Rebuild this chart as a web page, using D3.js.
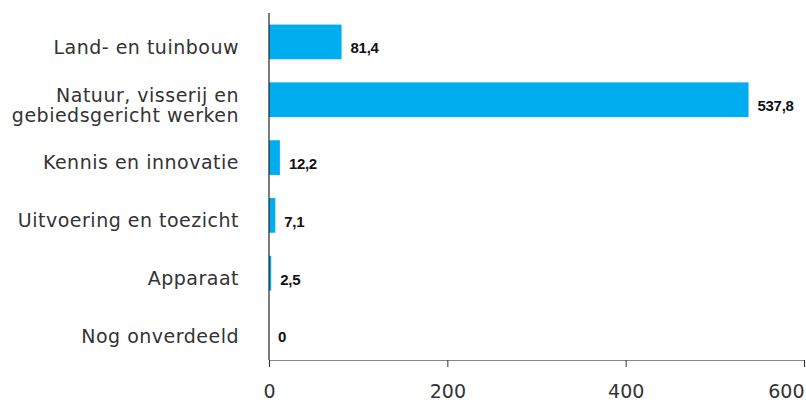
<!DOCTYPE html>
<html>
<head>
<meta charset="utf-8">
<script src="https://cdn.jsdelivr.net/npm/d3@7"></script>
<style>
  body { margin: 0; background: #fff; }
  svg { display: block; }
</style>
</head>
<body>
<div id="chart"></div>
<script>
// categories and values (mln euro)
const categories = [
  ['Land- en tuinbouw'],
  ['Natuur, visserij en', 'gebiedsgericht werken'],
  ['Kennis en innovatie'],
  ['Uitvoering en toezicht'],
  ['Apparaat'],
  ['Nog onverdeeld']
];
const values = [81.4, 537.8, 12.2, 7.1, 2.5, 0];
const xTicks = [0, 200, 400, 600];

const W = 806, H = 403;
const margin = { top: 13, right: 2, bottom: 43, left: 269 };
const width = 804 - margin.left;
const height = H - margin.top - margin.bottom;

const labelFont = '"DejaVu Sans", Verdana, sans-serif';
// texts sit a little below the bar centre in the original
const textShift = 6;

const svg = d3.select('#chart').append('svg')
  .attr('width', W)
  .attr('height', H);

const g = svg.append('g')
  .attr('transform', `translate(${margin.left},${margin.top})`);

const x = d3.scaleLinear().domain([0, 600]).range([0, width]);
const y = d3.scaleBand()
  .domain(d3.range(categories.length))
  .range([0, height])
  .paddingInner(0.4)
  .paddingOuter(0.2);

const fmt = v => String(v).replace('.', ',');

// bars
g.selectAll('.bar')
  .data(values)
  .enter().append('rect')
  .attr('class', 'bar')
  .attr('x', 0)
  .attr('y', (d, i) => y(i))
  .attr('width', d => x(d))
  .attr('height', y.bandwidth())
  .attr('fill', '#00adee');

// value labels
g.selectAll('.val')
  .data(values)
  .enter().append('text')
  .attr('class', 'val')
  .attr('x', d => x(d) + 9)
  .attr('y', (d, i) => y(i) + y.bandwidth() / 2 + textShift)
  .attr('dy', '0.36em')
  .style('font-family', '"Liberation Sans", Arial, sans-serif')
  .style('font-weight', 'bold')
  .style('font-size', '15px')
  .style('letter-spacing', '-0.3px')
  .style('fill', '#111')
  .text(d => fmt(d));

// x axis
const xAxis = g.append('g')
  .attr('transform', `translate(0,${height})`)
  .call(d3.axisBottom(x).tickValues(xTicks).tickSize(7).tickPadding(18).tickFormat(d => d));
xAxis.select('.domain').attr('stroke', '#888').attr('stroke-width', 1.2);
xAxis.selectAll('.tick line').attr('stroke', '#333');
xAxis.selectAll('.tick text')
  .style('font-family', labelFont)
  .style('font-size', '19px')
  .style('fill', '#333')
  .attr('text-anchor', (d, i) => i === xTicks.length - 1 ? 'end' : 'middle');

// y axis line
g.append('line')
  .attr('x1', 0).attr('x2', 0)
  .attr('y1', 0).attr('y2', height)
  .attr('stroke', '#222')
  .attr('stroke-width', 1.2);

// category labels
const lineH = 20;
const cat = g.selectAll('.cat')
  .data(categories)
  .enter().append('text')
  .attr('class', 'cat')
  .attr('text-anchor', 'end')
  .attr('transform', (d, i) => `translate(-30,${y(i) + y.bandwidth() / 2 + textShift - 1})`)
  .style('font-family', labelFont)
  .style('font-size', '19px')
  .style('letter-spacing', '0.5px')
  .style('fill', '#333');

cat.selectAll('tspan')
  .data(d => d.map((t, j) => ({ t, j, n: d.length })))
  .enter().append('tspan')
  .attr('x', 0)
  .attr('y', d => (d.j - (d.n - 1) / 2) * lineH)
  .attr('dy', '0.36em')
  .text(d => d.t);
</script>
</body>
</html>
